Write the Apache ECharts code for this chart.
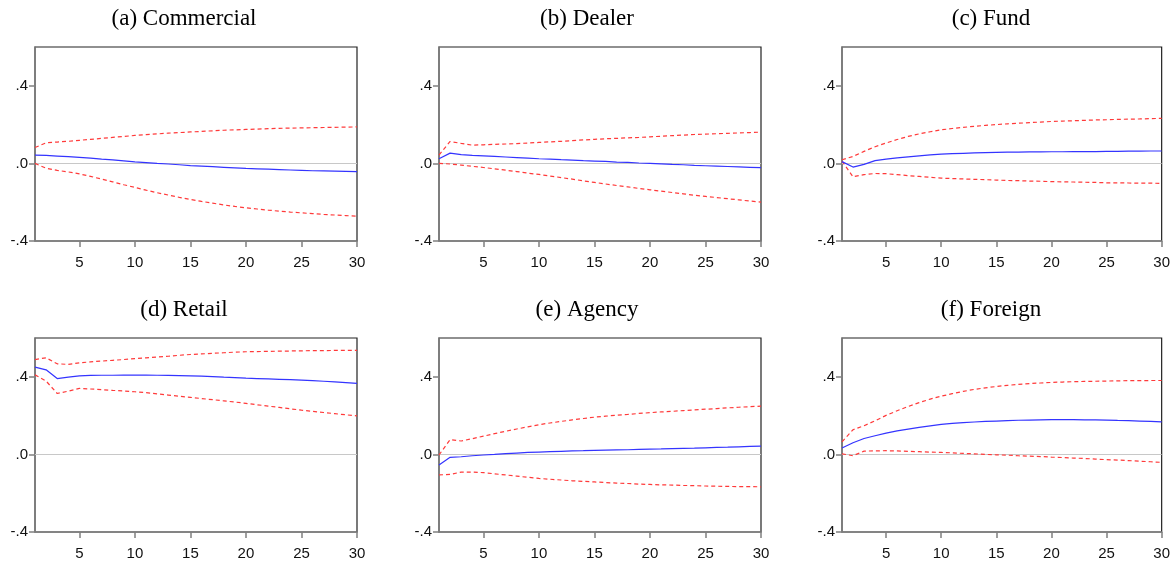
<!DOCTYPE html>
<html>
<head>
<meta charset="utf-8">
<script src="https://cdn.jsdelivr.net/npm/echarts@6/dist/echarts.min.js"></script>
<style>
  html, body { margin: 0; padding: 0; background: #fff; }
  #main { width: 1173px; height: 561px; }
</style>
</head>
<body>
<div id="main"></div>
<script>
// periods 1..30
var periods = [];
for (var p = 1; p <= 30; p++) periods.push(p);

var titles = ['(a) Commercial', '(b) Dealer', '(c) Fund', '(d) Retail', '(e) Agency', '(f) Foreign'];
var xTicks = [5, 10, 15, 20, 25, 30];
var yTicks = [-0.4, 0, 0.4];

// response (blue) and bands (red dashed)
var a_mid = [0.043, 0.041, 0.038, 0.035, 0.031, 0.027, 0.022, 0.018, 0.013, 0.008, 0.004, 0.000, -0.003, -0.007, -0.011, -0.014, -0.017, -0.020, -0.023, -0.026, -0.028, -0.030, -0.032, -0.034, -0.036, -0.038, -0.039, -0.040, -0.041, -0.042];
var a_up = [0.082, 0.106, 0.110, 0.114, 0.119, 0.124, 0.129, 0.134, 0.139, 0.144, 0.148, 0.152, 0.156, 0.159, 0.162, 0.165, 0.168, 0.171, 0.173, 0.175, 0.177, 0.179, 0.181, 0.182, 0.183, 0.184, 0.185, 0.186, 0.187, 0.188];
var a_lo = [0.000, -0.025, -0.036, -0.044, -0.054, -0.067, -0.081, -0.095, -0.110, -0.124, -0.138, -0.151, -0.163, -0.175, -0.186, -0.196, -0.205, -0.214, -0.222, -0.229, -0.235, -0.241, -0.246, -0.251, -0.255, -0.259, -0.263, -0.266, -0.269, -0.272];

var b_mid = [0.024, 0.053, 0.045, 0.041, 0.039, 0.036, 0.033, 0.030, 0.027, 0.024, 0.022, 0.019, 0.017, 0.014, 0.012, 0.010, 0.007, 0.005, 0.002, 0.000, -0.002, -0.005, -0.007, -0.010, -0.012, -0.014, -0.016, -0.018, -0.020, -0.022];
var b_up = [0.043, 0.113, 0.103, 0.094, 0.096, 0.098, 0.100, 0.102, 0.105, 0.108, 0.111, 0.114, 0.117, 0.121, 0.124, 0.127, 0.129, 0.132, 0.134, 0.137, 0.140, 0.143, 0.146, 0.149, 0.151, 0.153, 0.155, 0.157, 0.159, 0.161];
var b_lo = [0.000, -0.003, -0.009, -0.015, -0.021, -0.028, -0.035, -0.042, -0.050, -0.057, -0.065, -0.073, -0.081, -0.090, -0.098, -0.106, -0.114, -0.121, -0.129, -0.136, -0.143, -0.150, -0.157, -0.164, -0.170, -0.176, -0.182, -0.188, -0.194, -0.200];

var c_mid = [0.009, -0.019, -0.005, 0.014, 0.022, 0.028, 0.034, 0.039, 0.044, 0.048, 0.050, 0.052, 0.054, 0.056, 0.057, 0.058, 0.058, 0.059, 0.059, 0.060, 0.060, 0.061, 0.061, 0.061, 0.062, 0.062, 0.063, 0.063, 0.064, 0.064];
var c_up = [0.019, 0.036, 0.062, 0.086, 0.105, 0.123, 0.139, 0.152, 0.163, 0.173, 0.180, 0.186, 0.191, 0.196, 0.200, 0.204, 0.207, 0.210, 0.213, 0.216, 0.218, 0.220, 0.222, 0.224, 0.225, 0.227, 0.228, 0.229, 0.231, 0.232];
var c_lo = [0.012, -0.069, -0.058, -0.052, -0.053, -0.058, -0.063, -0.067, -0.072, -0.076, -0.078, -0.080, -0.082, -0.084, -0.086, -0.088, -0.089, -0.091, -0.092, -0.094, -0.095, -0.096, -0.097, -0.098, -0.100, -0.100, -0.101, -0.102, -0.102, -0.103];

var d_mid = [0.450, 0.436, 0.391, 0.398, 0.405, 0.407, 0.408, 0.408, 0.409, 0.409, 0.409, 0.408, 0.407, 0.406, 0.405, 0.403, 0.401, 0.398, 0.396, 0.393, 0.391, 0.389, 0.387, 0.385, 0.383, 0.380, 0.377, 0.374, 0.370, 0.366];
var d_up = [0.489, 0.498, 0.467, 0.464, 0.472, 0.477, 0.481, 0.485, 0.489, 0.494, 0.498, 0.502, 0.506, 0.511, 0.515, 0.518, 0.521, 0.524, 0.527, 0.529, 0.530, 0.531, 0.532, 0.533, 0.534, 0.535, 0.535, 0.536, 0.536, 0.536];
var d_lo = [0.410, 0.378, 0.314, 0.326, 0.340, 0.337, 0.334, 0.330, 0.327, 0.323, 0.318, 0.312, 0.306, 0.300, 0.294, 0.288, 0.282, 0.276, 0.270, 0.263, 0.256, 0.249, 0.242, 0.235, 0.228, 0.222, 0.216, 0.210, 0.204, 0.199];

var e_mid = [-0.055, -0.015, -0.012, -0.007, -0.003, 0.000, 0.004, 0.007, 0.010, 0.012, 0.014, 0.016, 0.018, 0.019, 0.021, 0.022, 0.023, 0.024, 0.026, 0.027, 0.028, 0.030, 0.031, 0.032, 0.034, 0.036, 0.037, 0.039, 0.041, 0.043];
var e_up = [-0.003, 0.076, 0.069, 0.081, 0.094, 0.107, 0.119, 0.131, 0.142, 0.153, 0.162, 0.170, 0.178, 0.185, 0.192, 0.197, 0.202, 0.206, 0.211, 0.215, 0.219, 0.222, 0.226, 0.229, 0.233, 0.236, 0.240, 0.243, 0.246, 0.249];
var e_lo = [-0.106, -0.103, -0.091, -0.091, -0.094, -0.100, -0.106, -0.112, -0.118, -0.124, -0.128, -0.132, -0.136, -0.139, -0.142, -0.145, -0.148, -0.150, -0.153, -0.155, -0.157, -0.158, -0.160, -0.161, -0.163, -0.164, -0.165, -0.166, -0.166, -0.167];

var f_mid = [0.033, 0.060, 0.082, 0.096, 0.110, 0.121, 0.130, 0.139, 0.147, 0.155, 0.160, 0.164, 0.167, 0.170, 0.172, 0.174, 0.176, 0.177, 0.178, 0.179, 0.179, 0.179, 0.178, 0.178, 0.177, 0.175, 0.174, 0.172, 0.170, 0.168];
var f_up = [0.065, 0.127, 0.148, 0.173, 0.201, 0.225, 0.247, 0.267, 0.285, 0.300, 0.313, 0.325, 0.335, 0.343, 0.350, 0.356, 0.361, 0.365, 0.368, 0.371, 0.373, 0.375, 0.376, 0.377, 0.378, 0.379, 0.380, 0.380, 0.381, 0.381];
var f_lo = [0.003, -0.007, 0.017, 0.018, 0.019, 0.018, 0.016, 0.014, 0.012, 0.010, 0.008, 0.005, 0.003, 0.000, -0.002, -0.004, -0.007, -0.009, -0.011, -0.014, -0.016, -0.019, -0.021, -0.024, -0.027, -0.029, -0.032, -0.035, -0.038, -0.041];

var panels = [
  [a_mid, a_up, a_lo], [b_mid, b_up, b_lo], [c_mid, c_up, c_lo],
  [d_mid, d_up, d_lo], [e_mid, e_up, e_lo], [f_mid, f_up, f_lo]
];

// panel boxes
var lefts = [35, 439, 842];
var tops = [47, 338];
var titleX = [179, 582, 986];
var titleY = [2, 293];

function pairs(arr) {
  return arr.map(function (v, i) { return [periods[i], v]; });
}

function fmtY(v) {
  // .4  .0  -.4
  var s = v.toFixed(1);
  return s.replace('0.', '.');
}

var grids = [], xAxes = [], yAxes = [], series = [], title = [];

panels.forEach(function (pn, k) {
  var col = k % 3, row = Math.floor(k / 3);
  grids.push({
    left: lefts[col], top: tops[row], width: 322, height: 194,
    show: true, borderColor: '#222', borderWidth: 1.2, backgroundColor: 'transparent'
  });
  title.push({
    text: titles[k], left: titleX[col], top: titleY[row], textAlign: 'center',
    textStyle: { fontFamily: 'Liberation Serif', fontSize: 23, fontWeight: 'normal', color: '#000' }
  });
  xAxes.push({
    type: 'value', gridIndex: k, min: 1, max: 30,
    axisLine: { show: true, onZero: false, lineStyle: { color: '#808080', width: 1.5 } },
    axisTick: { show: true, length: 6, customValues: xTicks, lineStyle: { color: '#808080', width: 1.5 } },
    axisLabel: { customValues: xTicks, margin: 14, fontFamily: 'Liberation Sans', fontSize: 15, color: '#111' },
    splitLine: { show: false }
  });
  yAxes.push({
    type: 'value', gridIndex: k, min: -0.4, max: 0.6, interval: 0.4,
    axisLine: { show: true, onZero: false, lineStyle: { color: '#808080', width: 1.5 } },
    axisTick: { show: true, length: 6, customValues: yTicks, lineStyle: { color: '#808080', width: 1.5 } },
    axisLabel: { customValues: yTicks, margin: 7, fontFamily: 'Liberation Sans', fontSize: 15, color: '#111', formatter: fmtY },
    splitLine: { show: false }
  });
  series.push({
    type: 'line', xAxisIndex: k, yAxisIndex: k, data: pairs(pn[0]),
    symbol: 'none', lineStyle: { color: '#3434ff', width: 1.2 }, z: 3,
    markLine: {
      silent: true, symbol: 'none', label: { show: false },
      lineStyle: { color: '#c8c8c8', width: 1, type: 'solid' },
      data: [{ yAxis: 0 }], z: 1
    }
  });
  series.push({
    type: 'line', xAxisIndex: k, yAxisIndex: k, data: pairs(pn[1]),
    symbol: 'none', lineStyle: { color: '#ff3a3a', width: 1.2, type: [4, 3] }, z: 2
  });
  series.push({
    type: 'line', xAxisIndex: k, yAxisIndex: k, data: pairs(pn[2]),
    symbol: 'none', lineStyle: { color: '#ff3a3a', width: 1.2, type: [4, 3] }, z: 2
  });
});

var chart = echarts.init(document.getElementById('main'));
chart.setOption({
  animation: false,
  backgroundColor: '#fff',
  title: title,
  grid: grids,
  xAxis: xAxes,
  yAxis: yAxes,
  series: series
});
</script>
</body>
</html>
